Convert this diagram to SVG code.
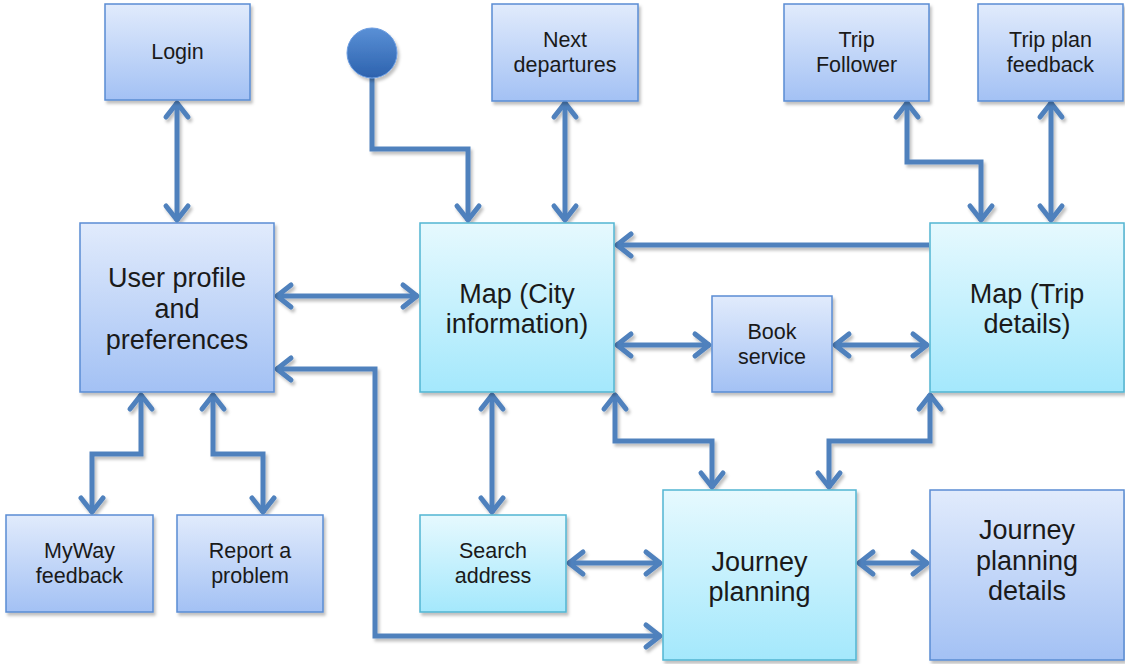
<svg xmlns="http://www.w3.org/2000/svg" width="1125" height="664" viewBox="0 0 1125 664">
<defs>
<linearGradient id="gBlue" x1="0" y1="0" x2="0" y2="1"><stop offset="0" stop-color="#e1ebfc"/><stop offset="1" stop-color="#a3c1f4"/></linearGradient>
<linearGradient id="gCyan" x1="0" y1="0" x2="0" y2="1"><stop offset="0" stop-color="#e6f9fe"/><stop offset="1" stop-color="#a4e8fc"/></linearGradient>
<linearGradient id="gDot" x1="0" y1="0" x2="0" y2="1"><stop offset="0" stop-color="#5a90d6"/><stop offset="1" stop-color="#2c62ae"/></linearGradient>
<filter id="sh" filterUnits="userSpaceOnUse" x="0" y="0" width="1125" height="664"><feDropShadow dx="2" dy="3" stdDeviation="1.5" flood-color="#000" flood-opacity="0.25"/></filter>
<marker id="ah" markerUnits="userSpaceOnUse" viewBox="-20 -15 24 30" refX="0" refY="0" markerWidth="24" markerHeight="30" orient="auto-start-reverse" overflow="visible">
<path d="M-15,-11 L-1,0 L-15,11" fill="none" stroke="#4f81bd" stroke-width="5" stroke-linejoin="round" stroke-linecap="round"/>
</marker>
</defs>
<style>
.b{fill:url(#gBlue);stroke:#5a8cd3;stroke-width:1.5;filter:url(#sh)}
.c{fill:url(#gCyan);stroke:#52b5d2;stroke-width:1.5;filter:url(#sh)}
.t{font-family:"Liberation Sans",Arial,sans-serif;font-size:21.5px;fill:#1a1a1a;text-anchor:middle}
.T{font-family:"Liberation Sans",Arial,sans-serif;font-size:27px;fill:#1a1a1a;text-anchor:middle}
.cn path{fill:none;stroke:#4f81bd;stroke-width:5;marker-end:url(#ah);filter:url(#sh)}
.cn path.d{marker-start:url(#ah)}
</style>
<g id="connectors" class="cn">
<path class="d" d="M177,102 V221"/>
<path d="M372,78 V149 H468 V221"/>
<path class="d" d="M565,102 V221"/>
<path class="d" d="M907,102 V162 H981 V221"/>
<path class="d" d="M1051,102 V221"/>
<path d="M929,245 H616"/>
<path class="d" d="M276,296 H418"/>
<path class="d" d="M616,345 H710"/>
<path class="d" d="M834,345 H928"/>
<path class="d" d="M661,636 H375 V369 H276"/>
<path class="d" d="M492,394 V513"/>
<path class="d" d="M615,394 V441 H712 V488"/>
<path class="d" d="M930,394 V441 H829 V488"/>
<path class="d" d="M568,563 H661"/>
<path class="d" d="M858,563 H928"/>
<path class="d" d="M141,394 V454 H92 V513"/>
<path class="d" d="M213,394 V454 H263 V513"/>
</g>
<g id="start"><circle cx="372" cy="53" r="25" fill="url(#gDot)" stroke="#6a9be0" stroke-width="1" filter="url(#sh)"/></g>
<g id="login"><rect class="b" x="105" y="4" width="145" height="96"/><text class="t" x="177.5" y="59">Login</text></g>
<g id="next"><rect class="b" x="492" y="4" width="146" height="97"/><text class="t" x="565" y="47">Next</text><text class="t" x="565" y="72">departures</text></g>
<g id="tripfollower"><rect class="b" x="784" y="4" width="145" height="97"/><text class="t" x="856.5" y="47">Trip</text><text class="t" x="856.5" y="72">Follower</text></g>
<g id="tripplan"><rect class="b" x="978" y="4" width="145" height="97"/><text class="t" x="1050.5" y="47">Trip plan</text><text class="t" x="1050.5" y="72">feedback</text></g>
<g id="userprofile"><rect class="b" x="80" y="223" width="194" height="169"/><text class="T" x="177" y="287">User profile</text><text class="T" x="177" y="318">and</text><text class="T" x="177" y="349">preferences</text></g>
<g id="mapcity"><rect class="c" x="420" y="223" width="194" height="169"/><text class="T" x="517" y="303">Map (City</text><text class="T" x="517" y="333">information)</text></g>
<g id="maptrip"><rect class="c" x="930" y="223" width="194" height="169"/><text class="T" x="1027" y="303">Map (Trip</text><text class="T" x="1027" y="333">details)</text></g>
<g id="book"><rect class="b" x="712" y="296" width="120" height="96"/><text class="t" x="772" y="339">Book</text><text class="t" x="772" y="364">service</text></g>
<g id="myway"><rect class="b" x="6" y="515" width="147" height="97"/><text class="t" x="79.5" y="558">MyWay</text><text class="t" x="79.5" y="583">feedback</text></g>
<g id="report"><rect class="b" x="177" y="515" width="146" height="97"/><text class="t" x="250" y="558">Report a</text><text class="t" x="250" y="583">problem</text></g>
<g id="search"><rect class="c" x="420" y="515" width="146" height="97"/><text class="t" x="493" y="558">Search</text><text class="t" x="493" y="583">address</text></g>
<g id="journey"><rect class="c" x="663" y="490" width="193" height="170"/><text class="T" x="759.5" y="571">Journey</text><text class="T" x="759.5" y="601">planning</text></g>
<g id="jpdetails"><rect class="b" x="930" y="490" width="194" height="170"/><text class="T" x="1027" y="539">Journey</text><text class="T" x="1027" y="570">planning</text><text class="T" x="1027" y="600">details</text></g>
</svg>
